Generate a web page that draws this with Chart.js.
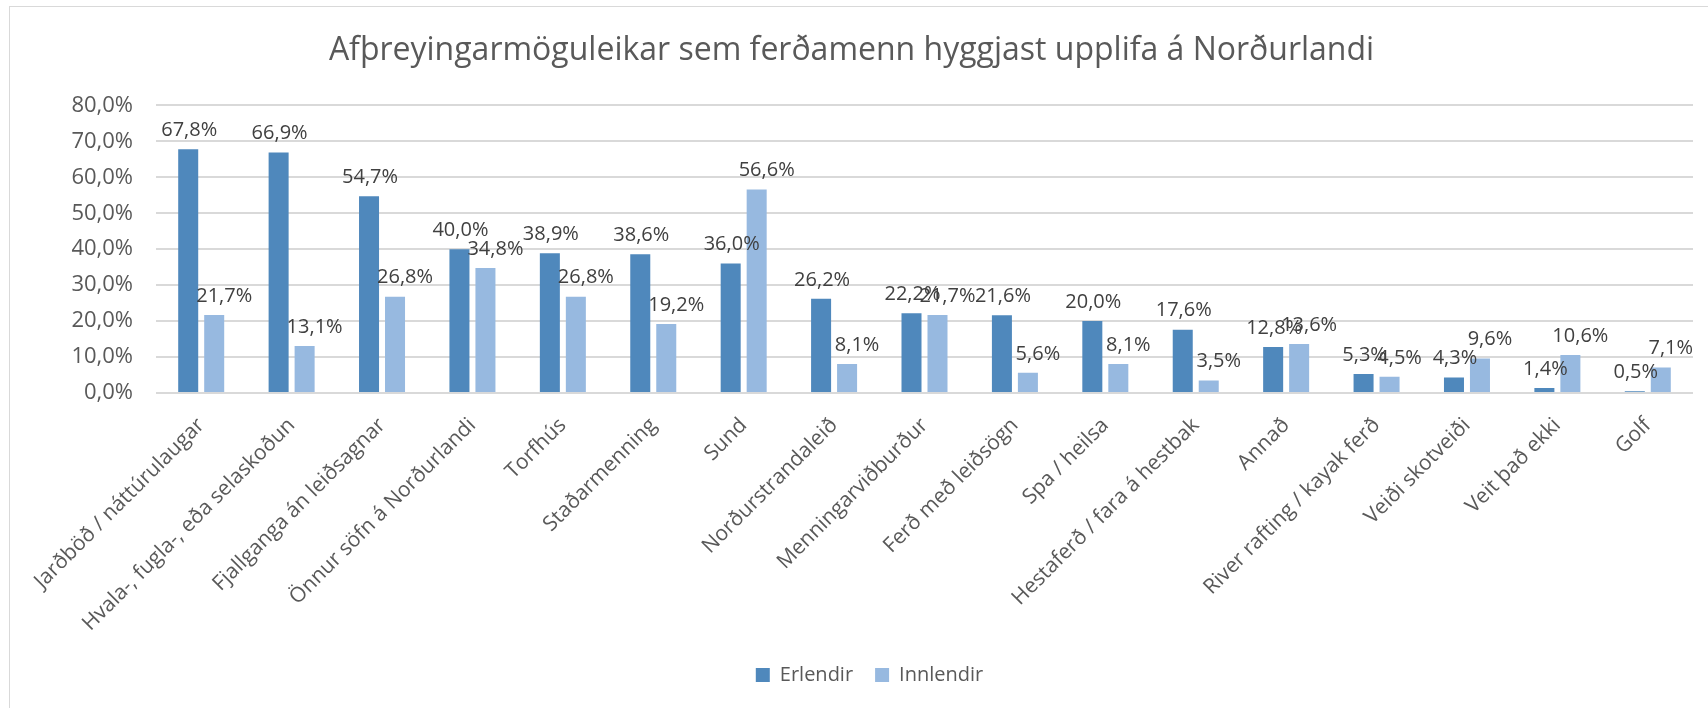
<!DOCTYPE html>
<html>
<head>
<meta charset="utf-8">
<script src="https://cdn.jsdelivr.net/npm/chart.js@4.4.1/dist/chart.umd.min.js"></script>
<style>
  html, body { margin: 0; padding: 0; background: #fff; overflow: hidden; }
  #frame {
    position: absolute; left: 9px; top: 6px;
    width: 1713px; height: 702px;
    border-left: 1px solid #d9d9d9; border-top: 1px solid #d9d9d9;
  }
  #wrap { position: absolute; left: 0; top: 0; width: 1712px; height: 701px; }
</style>
</head>
<body>
<div id="frame"><div id="wrap"><canvas id="chart"></canvas></div></div>
<script>
// categories and values
const categories = [
  'Jarðböð / náttúrulaugar',
  'Hvala-, fugla-, eða selaskoðun',
  'Fjallganga án leiðsagnar',
  'Önnur söfn á Norðurlandi',
  'Torfhús',
  'Staðarmenning',
  'Sund',
  'Norðurstrandaleið',
  'Menningarviðburður',
  'Ferð með leiðsögn',
  'Spa / heilsa',
  'Hestaferð / fara á hestbak',
  'Annað',
  'River rafting / kayak ferð',
  'Veiði skotveiði',
  'Veit það ekki',
  'Golf'
];
const erlendir = [67.8, 66.9, 54.7, 40.0, 38.9, 38.6, 36.0, 26.2, 22.2, 21.6, 20.0, 17.6, 12.8, 5.3, 4.3, 1.4, 0.5];
const innlendir = [21.7, 13.1, 26.8, 34.8, 26.8, 19.2, 56.6, 8.1, 21.7, 5.6, 8.1, 3.5, 13.6, 4.5, 9.6, 10.6, 7.1];
const seriesNames = ['Erlendir', 'Innlendir'];
const yTicks = [0, 10, 20, 30, 40, 50, 60, 70, 80];

const FONT = "'Open Sans', 'Noto Sans', sans-serif";
const pct = (v) => v.toFixed(1).replace('.', ',') + '%';

// simple value labels above each bar (no datalabels plugin offline)
const barLabels = {
  id: 'barLabels',
  afterDatasetsDraw(chart) {
    const ctx = chart.ctx;
    ctx.save();
    ctx.font = '20px ' + FONT;
    ctx.fillStyle = '#404040';
    ctx.textAlign = 'center';
    ctx.textBaseline = 'bottom';
    chart.data.datasets.forEach((ds, i) => {
      const meta = chart.getDatasetMeta(i);
      const shift = i === 0 ? 1 : 10;
      meta.data.forEach((bar, j) => {
        ctx.fillText(pct(ds.data[j]), bar.x + shift, bar.y - 9);
      });
    });
    ctx.restore();
  }
};

// legend centering counts the trailing padding, nudge it back to the middle
const legendNudge = {
  id: 'legendNudge',
  afterLayout(chart) {
    chart.legend.left += 18;
    chart.legend.right += 18;
  }
};

new Chart(document.getElementById('chart'), {
  type: 'bar',
  data: {
    labels: categories,
    datasets: [
      { label: seriesNames[0], data: erlendir, backgroundColor: '#4F88BC' },
      { label: seriesNames[1], data: innlendir, backgroundColor: '#97B9E0' }
    ]
  },
  options: {
    responsive: true,
    maintainAspectRatio: false,
    animation: false,
    categoryPercentage: 0.575,
    barPercentage: 0.77,
    layout: { padding: { right: 29, bottom: 13 } },
    plugins: {
      title: {
        display: true,
        text: 'Afþreyingarmöguleikar sem ferðamenn hyggjast upplifa á Norðurlandi',
        color: '#595959',
        font: { family: FONT, size: 32, weight: 'normal' },
        padding: { top: 25, bottom: 35 }
      },
      legend: {
        position: 'bottom',
        labels: {
          color: '#595959',
          font: { family: FONT, size: 20 },
          boxWidth: 14,
          boxHeight: 14,
          padding: 22
        }
      },
      tooltip: { enabled: false }
    },
    scales: {
      x: {
        grid: { display: false, drawTicks: false },
        border: { display: false },
        ticks: {
          autoSkip: false,
          minRotation: 45,
          maxRotation: 45,
          padding: 20,
          color: '#595959',
          font: { family: FONT, size: 21 }
        },
        afterFit(scale) { scale.height = 250; }
      },
      y: {
        min: 0,
        max: 80,
        afterBuildTicks(scale) { scale.ticks = yTicks.map((v) => ({ value: v })); },
        grid: { color: '#d9d9d9', lineWidth: 2, drawTicks: false },
        border: { display: false },
        ticks: {
          padding: 23,
          color: '#595959',
          font: { family: FONT, size: 22 },
          callback: (v) => pct(v)
        },
        afterFit(scale) { scale.width = 146; }
      }
    }
  },
  plugins: [barLabels, legendNudge]
});
</script>
</body>
</html>
